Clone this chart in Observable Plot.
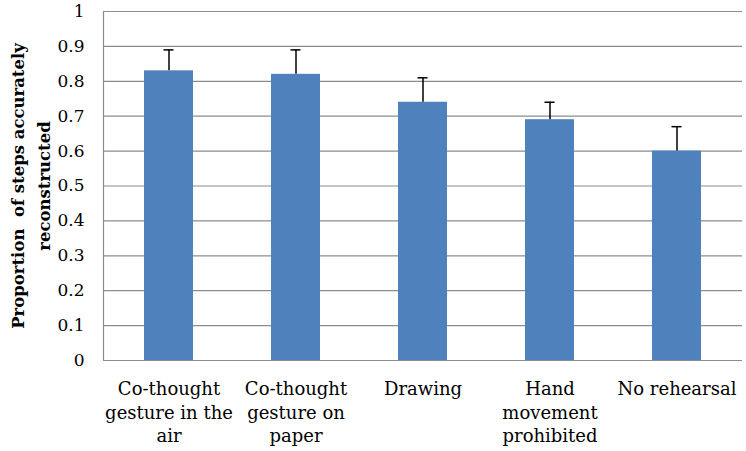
<!DOCTYPE html>
<html>
<head>
<meta charset="utf-8">
<script src="https://cdn.jsdelivr.net/npm/d3@7"></script>
<script src="https://cdn.jsdelivr.net/npm/@observablehq/plot@0.6"></script>
<style>
  html, body { margin: 0; padding: 0; background: #fff; }
</style>
</head>
<body>
<div id="chart"></div>
<script>
const categories = [
  "Co-thought gesture in the air",
  "Co-thought gesture on paper",
  "Drawing",
  "Hand movement prohibited",
  "No rehearsal"
];
const tickLabels = [
  "Co-thought\ngesture in the\nair",
  "Co-thought\ngesture on\npaper",
  "Drawing",
  "Hand\nmovement\nprohibited",
  "No rehearsal"
];
const means = [0.83, 0.82, 0.74, 0.69, 0.60];
const upper = [0.89, 0.89, 0.81, 0.74, 0.67];
const yTicks = [0, 0.1, 0.2, 0.3, 0.4, 0.5, 0.6, 0.7, 0.8, 0.9, 1];
const yTitle = "Proportion  of steps accurately\nreconstructed";

const serif = "DejaVu Serif, Liberation Serif, serif";
const data = categories.map((c, i) => ({cat: c, label: tickLabels[i], mean: means[i], upper: upper[i]}));
const labelOf = new Map(categories.map((c, i) => [c, tickLabels[i]]));

const chart = Plot.plot({
  width: 746,
  height: 451,
  marginLeft: 103,
  marginRight: 4,
  marginTop: 11,
  marginBottom: 91,
  style: {fontFamily: serif, background: "#fff"},
  x: {domain: categories, paddingInner: 0.614, paddingOuter: 0.3225, label: null},
  y: {domain: [0, 1], label: null},
  marks: [
    Plot.ruleY(yTicks, {stroke: "#8c8c8c", strokeWidth: 1.2}),
    Plot.ruleX([categories[0]], {dx: -65.5, y1: 0, y2: 1, stroke: "#8c8c8c", strokeWidth: 1.2}),
    Plot.barY(data, {x: "cat", y: "mean", fill: "#4F81BD"}),
    Plot.ruleX(data, {x: "cat", y1: "mean", y2: "upper", stroke: "#000", strokeWidth: 1.5}),
    Plot.tickY(data, {x: "cat", y: "upper", stroke: "#000", strokeWidth: 1.5, insetLeft: 19.5, insetRight: 19.5}),
    Plot.axisY({ticks: yTicks, tickSize: 0, tickPadding: 19, fontSize: 17, fontFamily: serif, tickFormat: d => String(+d.toFixed(1)), fill: "#000"}),
    Plot.axisX({tickSize: 0, tickPadding: 18, fontSize: 18, fontFamily: serif, lineHeight: 1.3, tickFormat: d => labelOf.get(d), fill: "#000"}),
    Plot.text([yTitle], {frameAnchor: "left", dx: -75, rotate: -90, textAnchor: "middle", fontSize: 16.5, fontFamily: serif, fontWeight: "bold", lineHeight: 1.6, fill: "#000", text: d => d})
  ]
});
document.getElementById("chart").appendChild(chart);
</script>
</body>
</html>
